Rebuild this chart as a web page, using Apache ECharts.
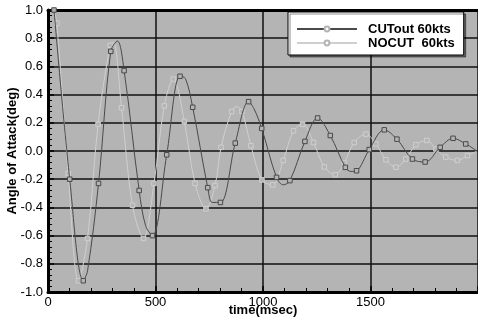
<!DOCTYPE html>
<html>
<head>
<meta charset="utf-8">
<script src="https://cdn.jsdelivr.net/npm/echarts@6/dist/echarts.min.js"></script>
<style>
html, body { margin: 0; padding: 0; background: #fff; }
#chart1 { width: 478px; height: 321px; }
</style>
</head>
<body>
<div id="chart1"></div>
<script>
// echarts实例
let chart1 = echarts.init(document.getElementById("chart1"));

// CUTout 60kts : time(msec), angle(deg), 1 = 有标记点
let cutTime = [28, 101, 164, 184, 235, 292, 323, 354, 424, 454, 486, 552, 614, 639, 673, 743, 764, 802,
    871, 933, 958, 994, 1063, 1094, 1125, 1195, 1254, 1313, 1383, 1409, 1435, 1494, 1564, 1623,
    1695, 1754, 1824, 1884, 1943, 1995];
let cutAngle = [1.0, -0.20, -0.92, -0.85, -0.23, 0.707, 0.78, 0.57, -0.28, -0.53, -0.60, -0.027, 0.53, 0.515, 0.31, -0.26, -0.365, -0.365,
    0.056, 0.35, 0.30, 0.16, -0.187, -0.24, -0.21, 0.068, 0.234, 0.11, -0.116, -0.145, -0.14, 0.01, 0.15, 0.084,
    -0.057, -0.078, 0.026, 0.09, 0.05, 0.0];
let cutMark = [1, 1, 1, 0, 1, 1, 0, 1, 1, 0, 1, 1, 1, 0, 1, 1, 0, 1,
    1, 1, 0, 1, 1, 0, 1, 1, 1, 1, 1, 0, 1, 1, 1, 1,
    1, 1, 1, 1, 1, 0];

// NOCUT 60kts
let nocutTime = [28, 41, 94, 142, 184, 233, 289, 304, 342, 393, 444, 493, 541, 583, 634, 684, 735, 777, 805,
    854, 877, 902, 944, 995, 1045, 1094, 1142, 1184, 1235, 1285, 1336, 1378, 1424, 1479, 1525,
    1572, 1618, 1664, 1711, 1762, 1804, 1850, 1904, 1951, 1996];
let nocutAngle = [1.0, 0.905, -0.16, -0.92, -0.62, 0.19, 0.75, 0.775, 0.307, -0.385, -0.62, -0.23, 0.32, 0.51, 0.21, -0.23, -0.41, -0.245, 0.026,
    0.28, 0.315, 0.28, 0.037, -0.205, -0.24, -0.067, 0.143, 0.19, 0.06, -0.113, -0.168, -0.085, 0.06, 0.12, 0.05,
    -0.062, -0.115, -0.057, 0.044, 0.075, 0.014, -0.043, -0.067, -0.033, 0.0];
let nocutMark = [0, 1, 1, 1, 1, 1, 1, 0, 1, 1, 1, 1, 1, 1, 1, 1, 1, 1, 1,
    1, 0, 1, 1, 1, 1, 1, 1, 1, 1, 1, 1, 1, 1, 1, 1,
    1, 1, 1, 1, 1, 1, 1, 1, 1, 0];

let xTicks = [0, 500, 1000, 1500, 2000];

let font = 'Liberation Sans, Arial, sans-serif';
let bg = '#b4b4b4';

function build(times, angles, marks) {
    return times.map(function (t, i) {
        return {
            value: [t, angles[i]],
            symbol: marks[i] ? 'rect' : 'none'
        };
    });
}

let option = {
    backgroundColor: '#fff',
    animation: false,
    textStyle: { fontFamily: font, color: '#000' },
    grid: {
        left: 48, right: 0, top: 10, bottom: 29,
        outerBoundsMode: 'none',
        containLabel: false,
        show: true, backgroundColor: bg, borderWidth: 0
    },
    legend: {
        left: 288, top: 12,
        orient: 'vertical',
        data: ['CUTout 60kts', 'NOCUT  60kts'],
        backgroundColor: '#fff',
        borderColor: '#000',
        borderWidth: 1,
        shadowColor: 'rgba(0,0,0,0.45)',
        shadowOffsetX: 2,
        shadowOffsetY: 2,
        padding: [10, 9, 5, 8],
        itemWidth: 60,
        itemHeight: 6,
        itemGap: 0,
        textStyle: {
            fontFamily: font, fontSize: 13, fontWeight: 'bold', color: '#000',
            lineHeight: 14, padding: [0, 0, 0, 6]
        }
    },
    xAxis: [{
        type: 'value',
        min: xTicks[0], max: xTicks[xTicks.length - 1], interval: 500,
        name: 'time(msec)',
        nameLocation: 'middle',
        nameGap: 12,
        nameMoveOverlap: false,
        nameTextStyle: { fontFamily: font, fontSize: 13, fontWeight: 'bold', color: '#000' },
        axisLine: { onZero: false, lineStyle: { color: '#000', width: 3 } },
        axisTick: { inside: true, length: 6, lineStyle: { color: '#000', width: 1.5 } },
        minorTick: { show: true, splitNumber: 5, length: 4, lineStyle: { color: '#000', width: 1 } },
        axisLabel: {
            fontFamily: font, fontSize: 13, color: '#000', margin: 4, showMaxLabel: false,
            formatter: function (v) { return String(v); }
        },
        splitLine: { show: true, lineStyle: { color: '#111', width: 1.5 } }
    }, {
        type: 'value',
        position: 'top',
        min: xTicks[0], max: xTicks[xTicks.length - 1],
        axisLine: { onZero: false, lineStyle: { color: '#000', width: 3 } },
        axisTick: { show: false },
        axisLabel: { show: false },
        splitLine: { show: false }
    }],
    yAxis: {
        type: 'value',
        min: -1, max: 1, interval: 0.2,
        name: 'Angle of Attack(deg)',
        nameLocation: 'middle',
        nameGap: 29,
        nameMoveOverlap: false,
        nameTextStyle: { fontFamily: font, fontSize: 13, fontWeight: 'bold', color: '#000' },
        axisLine: { onZero: false, lineStyle: { color: '#000', width: 3 } },
        axisTick: { inside: true, length: 6, lineStyle: { color: '#000', width: 1.5 } },
        minorTick: { show: true, splitNumber: 5, length: 4, lineStyle: { color: '#000', width: 1 } },
        axisLabel: {
            fontFamily: font, fontSize: 13, color: '#000', margin: 5,
            formatter: function (v) { return v.toFixed(1); }
        },
        splitLine: { show: true, lineStyle: { color: '#111', width: 1.5 } }
    },
    series: [{
        name: 'CUTout 60kts',
        type: 'line',
        z: 3,
        smooth: 0.35,
        symbolSize: 4.5,
        lineStyle: { color: '#4a4a4a', width: 1 },
        itemStyle: { color: bg, borderColor: '#4a4a4a', borderWidth: 1 },
        data: build(cutTime, cutAngle, cutMark)
    }, {
        name: 'NOCUT  60kts',
        type: 'line',
        z: 2,
        smooth: 0.35,
        symbolSize: 4.5,
        lineStyle: { color: '#cfcfcf', width: 1 },
        itemStyle: { color: bg, borderColor: '#cfcfcf', borderWidth: 1 },
        data: build(nocutTime, nocutAngle, nocutMark)
    }]
};
window.onresize = chart1.resize;
chart1.setOption(option);
</script>
</body>
</html>
